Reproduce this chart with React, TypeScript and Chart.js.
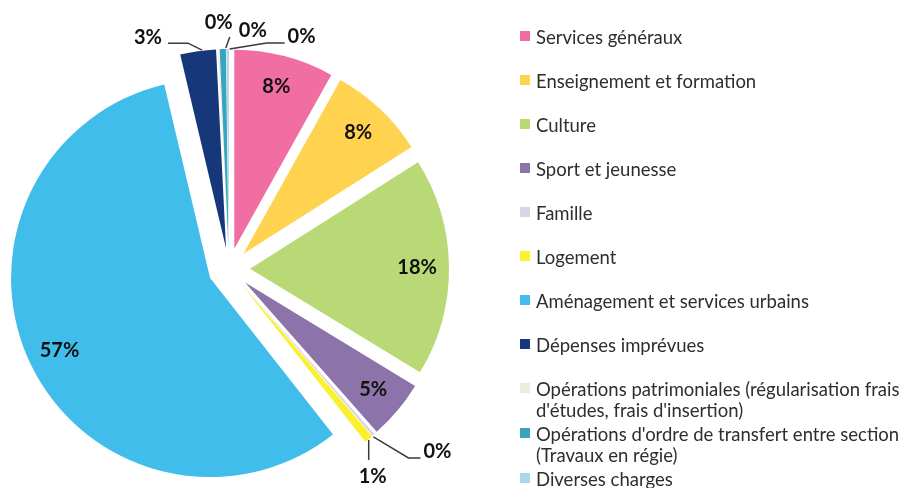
import { useEffect, useRef } from "react";
import { Chart, registerables } from "chart.js";

Chart.register(...registerables);

// ---- data ----
const categories: (string | string[])[] = [
  "Services généraux",
  "Enseignement et formation",
  "Culture",
  "Sport et jeunesse",
  "Famille",
  "Logement",
  "Aménagement et services urbains",
  "Dépenses imprévues",
  ["Opérations patrimoniales (régularisation frais", "d'études, frais d'insertion)"],
  ["Opérations d'ordre de transfert entre section", "(Travaux en régie)"],
  "Diverses charges",
];
const shares = [8.1, 7.9, 17.7, 4.8, 0.2, 0.7, 56.9, 2.9, 0.1, 0.5, 0.2];

// ---- styles ----
const colors = [
  "#F06EA2", "#FFD24F", "#B9D977", "#8C73A9", "#DCD3E8", "#FAF02D",
  "#41BDEB", "#16387A", "#EEEBDD", "#3AA3BE", "#A8D8EA",
];
type LabelStyle = { mode: "in" | "out"; label?: [number, number]; line?: [number, number][] };
const labelStyles: LabelStyle[] = [
  { mode: "in" },
  { mode: "in" },
  { mode: "in" },
  { mode: "in" },
  { mode: "out", label: [64, 17], line: [[0, 2], [35, 23], [47, 23]] },
  { mode: "out", label: [4, 38], line: [[0, 1], [0, 21]] },
  { mode: "in" },
  { mode: "out", label: [-50, -14], line: [[4, -1], [-10, -8], [-30, -8]] },
  { mode: "out", label: [0, -27], line: [] },
  { mode: "out", label: [30, -19], line: [[3, -1], [7, -12]] },
  { mode: "out", label: [74, -12], line: [[2, 0], [39, -6], [57, -6]] },
];
const EXPLODE = 21;
const RADIUS = 199;
const INSIDE_RATIO = 0.84;
const LABEL_FONT = "bold 20px Lato";
const LEGEND_FONT = "18.5px Lato";

const explodePlugin = {
  id: "explode",
  afterUpdate(chart: any) {
    const meta = chart.getDatasetMeta(0);
    const a = chart.chartArea;
    const cx = (a.left + a.right) / 2;
    const cy = (a.top + a.bottom) / 2;
    meta.data.forEach((arc: any) => {
      const mid = (arc.startAngle + arc.endAngle) / 2;
      arc.x = cx + Math.cos(mid) * EXPLODE;
      arc.y = cy + Math.sin(mid) * EXPLODE;
    });
  },
};

const labelsPlugin = {
  id: "pieLabels",
  afterDatasetsDraw(chart: any) {
    const ctx = chart.ctx;
    const meta = chart.getDatasetMeta(0);
    const values = chart.data.datasets[0].data as number[];
    const total = values.reduce((s, v) => s + v, 0);
    ctx.save();
    ctx.font = LABEL_FONT;
    ctx.textAlign = "center";
    ctx.textBaseline = "middle";
    meta.data.forEach((arc: any, i: number) => {
      const st = labelStyles[i];
      const mid = (arc.startAngle + arc.endAngle) / 2;
      const r = arc.outerRadius;
      const text = Math.round((values[i] / total) * 100) + "%";
      if (st.mode === "in") {
        const x = arc.x + Math.cos(mid) * r * INSIDE_RATIO;
        const y = arc.y + Math.sin(mid) * r * INSIDE_RATIO;
        ctx.fillStyle = "#111";
        ctx.fillText(text, x, y);
      } else {
        const ax = arc.x + Math.cos(mid) * r;
        const ay = arc.y + Math.sin(mid) * r;
        const pts = st.line || [];
        if (pts.length > 1) {
          ctx.beginPath();
          ctx.strokeStyle = "#3a3a3a";
          ctx.lineWidth = 1.5;
          pts.forEach((p, k) => {
            if (k === 0) ctx.moveTo(ax + p[0], ay + p[1]);
            else ctx.lineTo(ax + p[0], ay + p[1]);
          });
          ctx.stroke();
        }
        const lp = st.label || [0, 0];
        ctx.fillStyle = "#111";
        ctx.fillText(text, ax + lp[0], ay + lp[1]);
      }
    });
    ctx.restore();
  },
};

const legendPlugin = {
  id: "sideLegend",
  afterDraw(chart: any) {
    const ctx = chart.ctx;
    const labels = chart.data.labels as (string | string[])[];
    const bg = chart.data.datasets[0].backgroundColor as string[];
    const boxX = 520;
    const textX = 536;
    const lineH = 21;
    let y = 38;
    ctx.save();
    ctx.font = LEGEND_FONT;
    ctx.textAlign = "left";
    ctx.textBaseline = "middle";
    labels.forEach((lab, i) => {
      const lines = Array.isArray(lab) ? lab : [lab];
      ctx.fillStyle = bg[i];
      ctx.fillRect(boxX, y - 7, 10, 10);
      ctx.fillStyle = "#2e2e2e";
      lines.forEach((ln, k) => ctx.fillText(ln, textX, y + k * lineH));
      y += Math.max(44, lines.length * lineH + 3);
    });
    ctx.restore();
  },
};

export default function App() {
  const ref = useRef<HTMLCanvasElement | null>(null);
  useEffect(() => {
    if (!ref.current) return;
    const chart = new Chart(ref.current, {
      type: "pie",
      data: {
        labels: categories,
        datasets: [
          {
            data: shares,
            backgroundColor: colors,
            borderWidth: 0,
          },
        ],
      },
      options: {
        responsive: true,
        maintainAspectRatio: false,
        animation: false,
        radius: RADIUS,
        layout: { padding: { left: 0, top: 50, right: 449, bottom: 0 } },
        plugins: {
          legend: { display: false },
          tooltip: { enabled: false },
        },
      } as any,
      plugins: [explodePlugin, labelsPlugin, legendPlugin],
    });
    return () => chart.destroy();
  }, []);
  return (
    <div style={{ position: "absolute", left: 0, top: 0, width: 907, height: 488, background: "#fff" }}>
      <canvas ref={ref} />
    </div>
  );
}
